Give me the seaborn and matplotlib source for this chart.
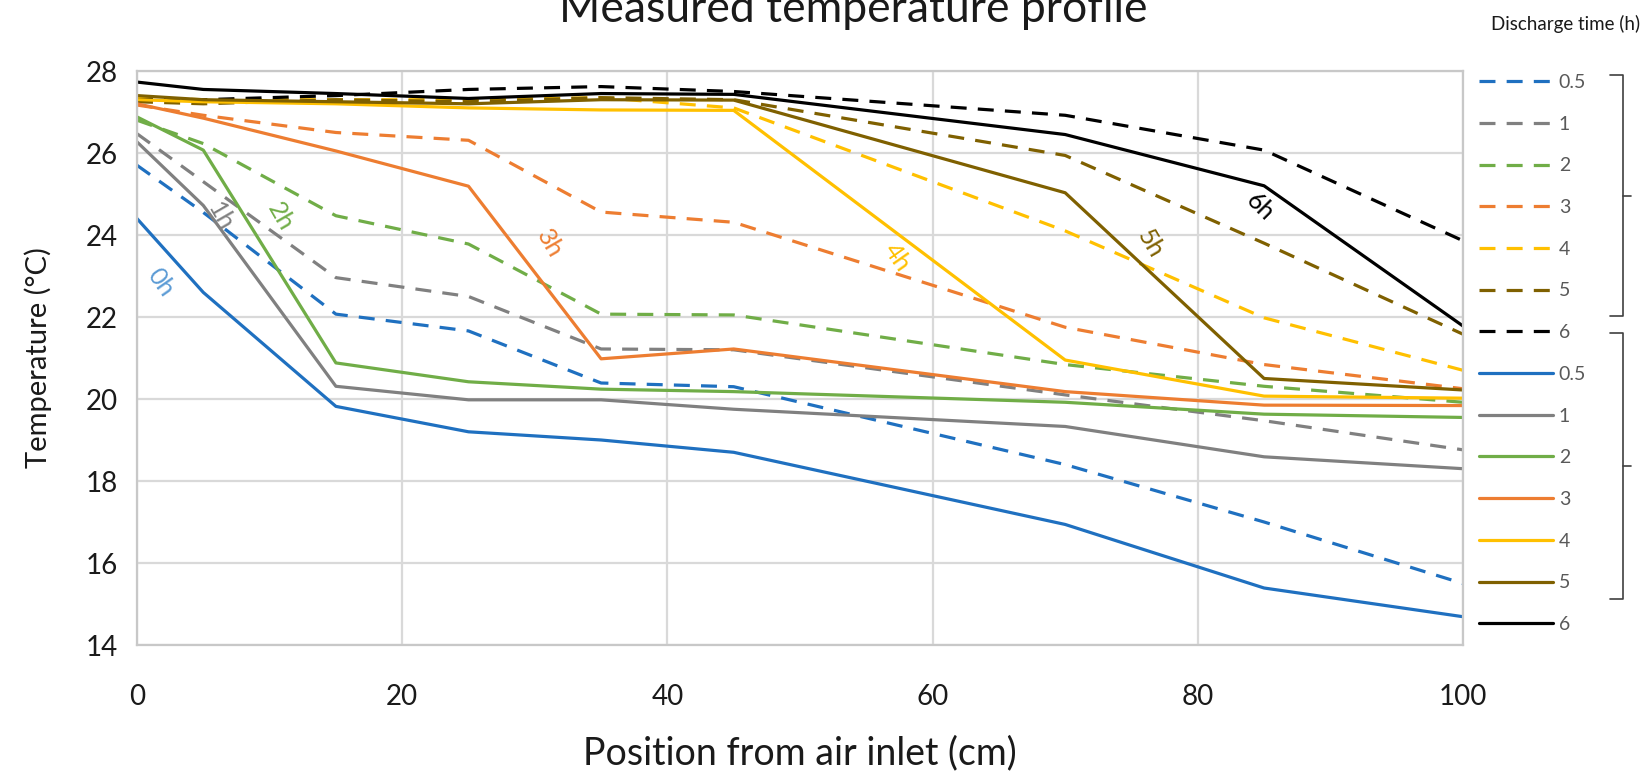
import matplotlib
matplotlib.use('Agg')
import matplotlib.pyplot as plt
import seaborn as sns
from matplotlib.lines import Line2D

# --- data ---
positions = [0, 5, 15, 25, 35, 45, 70, 85, 100]
discharge_times = ['0.5', '1', '2', '3', '4', '5', '6']

# dashed series
dashed_05 = [25.70, 24.55, 22.07, 21.66, 20.39, 20.30, 18.40, 17.00, 15.50]
dashed_1 = [26.47, 25.30, 22.96, 22.50, 21.22, 21.20, 20.10, 19.47, 18.76]
dashed_2 = [26.80, 26.23, 24.47, 23.78, 22.07, 22.05, 20.84, 20.31, 19.92]
dashed_3 = [27.17, 26.92, 26.50, 26.31, 24.56, 24.31, 21.75, 20.84, 20.25]
dashed_4 = [27.35, 27.30, 27.30, 27.30, 27.35, 27.10, 24.10, 21.98, 20.70]
dashed_5 = [27.25, 27.20, 27.30, 27.25, 27.35, 27.30, 25.94, 23.80, 21.58]
dashed_6 = [27.30, 27.30, 27.40, 27.55, 27.62, 27.50, 26.92, 26.07, 23.86]

# solid series
solid_05 = [24.40, 22.60, 19.82, 19.20, 19.00, 18.70, 16.94, 15.39, 14.69]
solid_1 = [26.27, 24.72, 20.31, 19.98, 19.98, 19.75, 19.33, 18.59, 18.30]
solid_2 = [26.88, 26.07, 20.88, 20.42, 20.24, 20.18, 19.92, 19.63, 19.55]
solid_3 = [27.20, 26.85, 26.05, 25.19, 20.98, 21.22, 20.18, 19.85, 19.84]
solid_4 = [27.30, 27.25, 27.20, 27.10, 27.05, 27.04, 20.95, 20.07, 20.02]
solid_5 = [27.40, 27.30, 27.25, 27.20, 27.30, 27.29, 25.03, 20.50, 20.22]
solid_6 = [27.73, 27.55, 27.45, 27.33, 27.45, 27.43, 26.45, 25.20, 21.78]

dashed_series = [dashed_05, dashed_1, dashed_2, dashed_3, dashed_4, dashed_5, dashed_6]
solid_series = [solid_05, solid_1, solid_2, solid_3, solid_4, solid_5, solid_6]

colors = ['#1F70C0', '#808080', '#70AD47', '#ED7D31', '#FFC000', '#7F6000', '#000000']

# in-plot curve labels: (text, x, y, rotation, color)
curve_labels = [
    ('0h', 1.8, 22.85, -55, '#5B9BD5'),
    ('1h', 6.3, 24.45, -60, '#808080'),
    ('2h', 10.8, 24.45, -60, '#70AD47'),
    ('3h', 31.1, 23.8, -60, '#ED7D31'),
    ('4h', 57.3, 23.45, -55, '#FFC000'),
    ('5h', 76.4, 23.8, -60, '#7F6000'),
    ('6h', 84.7, 24.7, -45, '#000000'),
]

W, H = 1642, 773

sns.set_theme(style="whitegrid")
plt.rcParams['font.family'] = ['Lato', 'DejaVu Sans']

fig = plt.figure(figsize=(W / 100, H / 100), dpi=100)
ax = fig.add_axes([137 / W, 1 - 645 / H, (1463 - 137) / W, (645 - 71) / H])

dash_style = (0, (5, 3.5))
lw = 2.3

for t, vals, c in zip(discharge_times, dashed_series, colors):
    sns.lineplot(x=positions, y=vals, ax=ax, color=c, linewidth=lw,
                 linestyle=dash_style, label=t, legend=False)
for t, vals, c in zip(discharge_times, solid_series, colors):
    sns.lineplot(x=positions, y=vals, ax=ax, color=c, linewidth=lw,
                 linestyle='-', label=t, legend=False)

for txt, x, y, rot, c in curve_labels:
    ax.text(x, y, txt, rotation=rot, color=c, fontsize=18,
            ha='center', va='center', rotation_mode='anchor')

ax.set_xlim(0, 100)
ax.set_ylim(14, 28)
ax.set_xticks(range(0, 101, 20))
ax.set_yticks(range(14, 29, 2))
ax.grid(True, color='#D9D9D9', linewidth=1.6)
for s in ax.spines.values():
    s.set_color('#C8C8C8')
    s.set_linewidth(1.6)
ax.tick_params(axis='x', labelsize=20, pad=28, colors='#1A1A1A', length=0)
ax.tick_params(axis='y', labelsize=20, pad=14, colors='#1A1A1A', length=0)

ax.set_xlabel('Position from air inlet (cm)', fontsize=27, color='#1A1A1A', labelpad=18)
ax.set_ylabel('Temperature (°C)', fontsize=21, color='#1A1A1A', labelpad=24)

# title sits partly above the top edge, as in the reference
fig.text(815 / 1568, 1 - 22 / H, 'Measured temperature profile', fontsize=32,
         ha='center', va='baseline', color='#1A1A1A')
fig.text(1 - 2 / W, 1 - 30 / H, 'Discharge time (h)', fontsize=13.5,
         ha='right', va='baseline', color='#1A1A1A')

# legend: dashed 0.5..6, then solid 0.5..6
handles, labels = ax.get_legend_handles_labels()
leg = fig.legend(handles, labels, loc='upper left',
                 bbox_to_anchor=(1479 / W, 1 - 74 / H), frameon=False,
                 fontsize=14, handlelength=3.8, handletextpad=0.3,
                 labelspacing=1.27, borderpad=0, borderaxespad=0)
for txt in leg.get_texts():
    txt.set_color('#595959')


def bracket(y_top, y_bot):
    xl, xv, xt = 1610, 1623, 1631
    ym = (y_top + y_bot) / 2
    segs = [([xl, xv, xv, xl], [y_top, y_top, y_bot, y_bot]),
            ([xv, xt], [ym, ym])]
    for xs, ys in segs:
        fig.add_artist(Line2D([x / W for x in xs], [1 - y / H for y in ys],
                              transform=fig.transFigure, color='#404040',
                              linewidth=1.2))


bracket(75, 316)
bracket(333, 599)

fig.savefig('out.png', dpi=100)
